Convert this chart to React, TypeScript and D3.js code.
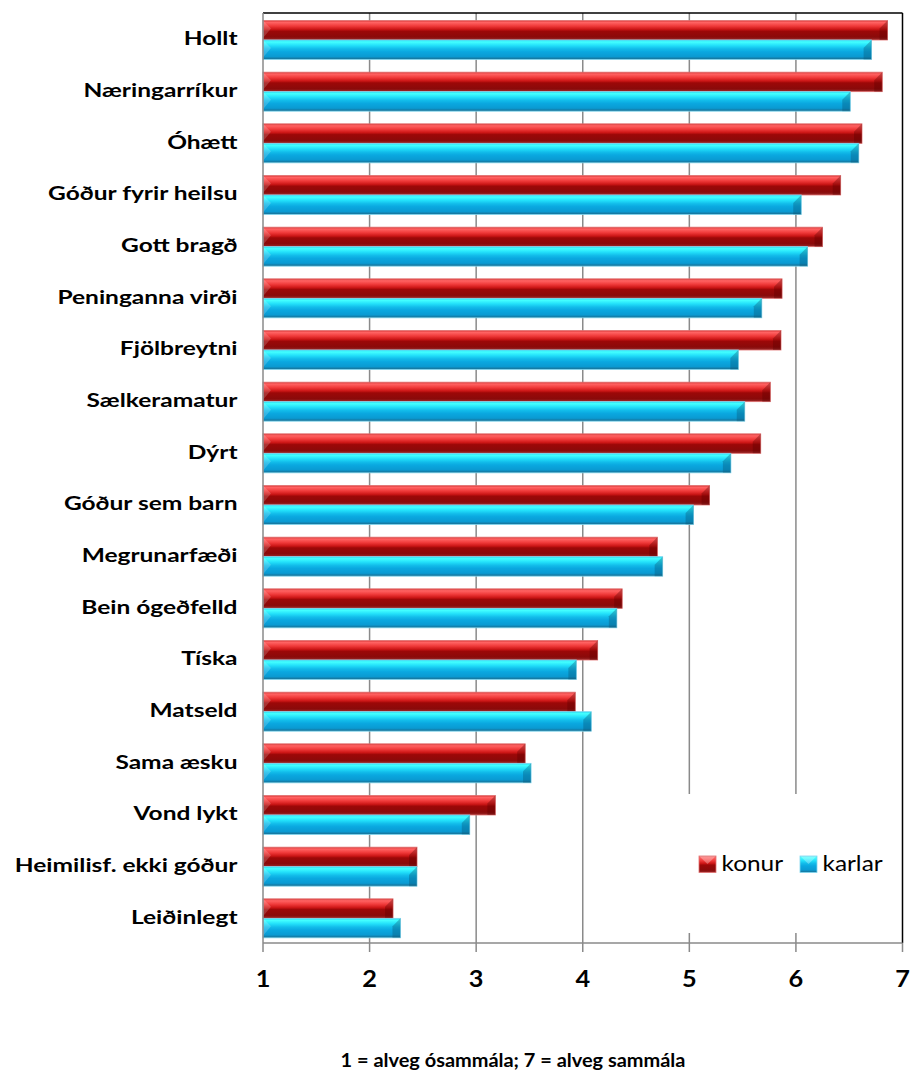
import React from "react";
import * as d3 from "d3";

const categories = [
  "Hollt",
  "Næringarríkur",
  "Óhætt",
  "Góður fyrir heilsu",
  "Gott bragð",
  "Peninganna virði",
  "Fjölbreytni",
  "Sælkeramatur",
  "Dýrt",
  "Góður sem barn",
  "Megrunarfæði",
  "Bein ógeðfelld",
  "Tíska",
  "Matseld",
  "Sama æsku",
  "Vond lykt",
  "Heimilisf. ekki góður",
  "Leiðinlegt",
];
const konur = [6.86, 6.81, 6.62, 6.42, 6.25, 5.87, 5.86, 5.76, 5.67, 5.19, 4.7, 4.37, 4.14, 3.93, 3.46, 3.18, 2.445, 2.22];
const karlar = [6.71, 6.51, 6.59, 6.05, 6.11, 5.68, 5.46, 5.52, 5.39, 5.04, 4.75, 4.32, 3.94, 4.08, 3.515, 2.94, 2.445, 2.29];
const seriesNames = ["konur", "karlar"];
const xTicks = [1, 2, 3, 4, 5, 6, 7];
const footer = "1 = alveg ósammála; 7 = alveg sammála";

const W = 910;
const H = 1070;
const left = 263;
const right = 902.5;
const top = 13;
const bottom = 943;
const FONT = "Lato, 'Open Sans', sans-serif";

export default function App() {
  const x = d3.scaleLinear().domain([1, 7]).range([left, right]);
  const y = d3.scaleBand<string>().domain(categories).range([top, bottom]);
  const inner = d3.scaleBand<string>().domain(seriesNames).range([7.5, 46.5]);
  const bh = inner.bandwidth();
  const seriesVals: Record<string, number[]> = { konur, karlar };
  const grad: Record<string, string> = { konur: "url(#gRed)", karlar: "url(#gCyan)" };
  const edge: Record<string, string> = { konur: "#e07070", karlar: "#80d8f0" };
  const dark: Record<string, string> = { konur: "#5a0000", karlar: "#0a5070" };

  const legendItems = [
    { name: "konur", sx: 699, tx: 721.5 },
    { name: "karlar", sx: 800, tx: 822.5 },
  ];

  return (
    <svg width={W} height={H} style={{ position: "absolute", left: 0, top: 0, background: "#fff" }}>
      <defs>
        <linearGradient id="gRed" x1="0" y1="0" x2="0" y2="1">
          <stop offset="0" stopColor="#d83a3a" />
          <stop offset="0.1" stopColor="#ff6262" />
          <stop offset="0.28" stopColor="#f03a3a" />
          <stop offset="0.45" stopColor="#cc1616" />
          <stop offset="0.55" stopColor="#9c0808" />
          <stop offset="0.85" stopColor="#8a0a0a" />
          <stop offset="1" stopColor="#9a2a2a" />
        </linearGradient>
        <linearGradient id="gCyan" x1="0" y1="0" x2="0" y2="1">
          <stop offset="0" stopColor="#2ad8f2" />
          <stop offset="0.1" stopColor="#44ffff" />
          <stop offset="0.28" stopColor="#22e0fa" />
          <stop offset="0.45" stopColor="#12bcea" />
          <stop offset="0.6" stopColor="#0aa8e0" />
          <stop offset="0.85" stopColor="#0a9ad2" />
          <stop offset="1" stopColor="#1a6a8c" />
        </linearGradient>
      </defs>

      {/* gridlines */}
      {xTicks.slice(1, -1).map((t) => (
        <line key={"g" + t} x1={x(t)} x2={x(t)} y1={top} y2={bottom} stroke="#8a8a8a" strokeWidth={1.5} />
      ))}

      {/* bars */}
      {categories.map((c, i) =>
        seriesNames.map((s) => {
          const v = seriesVals[s][i];
          const x0 = x(1);
          const x1 = x(v);
          const yy = (y(c) as number) + (inner(s) as number);
          const b = Math.min(8, bh / 2);
          return (
            <g key={c + s}>
              <rect x={x0} y={yy} width={x1 - x0} height={bh} fill={grad[s]} stroke={edge[s]} strokeWidth={0.8} />
              <polygon
                points={`${x1},${yy} ${x1 - b},${yy + b} ${x1 - b},${yy + bh} ${x1},${yy + bh}`}
                fill={dark[s]}
                opacity={0.35}
              />
              <polygon
                points={`${x0},${yy} ${x0 + b},${yy + b} ${x0},${yy + bh - 2}`}
                fill="#ffffff"
                opacity={0.18}
              />
            </g>
          );
        })
      )}

      {/* legend box */}
      <rect x={640} y={794} width={261} height={139} fill="#fff" />
      {legendItems.map((it) => (
        <g key={it.name}>
          <rect x={it.sx} y={856} width={17} height={16.5} fill={grad[it.name]} stroke={edge[it.name]} strokeWidth={0.8} />
          <polygon
            points={`${it.sx},${856} ${it.sx + 8.5},${864} ${it.sx + 17},${856}`}
            fill="#ffffff"
            opacity={0.3}
          />
          <text
            transform={`translate(${it.tx},871) scale(1.19,1)`}
            fontFamily={FONT}
            fontSize={20.5}
            fill="#000"
          >
            {it.name}
          </text>
        </g>
      ))}

      {/* frame */}
      <line x1={left} x2={right} y1={top} y2={top} stroke="#000" strokeWidth={1.5} />
      <line x1={right} x2={right} y1={top} y2={bottom} stroke="#000" strokeWidth={1.5} />
      <line x1={left} x2={left} y1={top} y2={bottom} stroke="#8a8a8a" strokeWidth={1.5} />
      <line x1={left} x2={right} y1={bottom} y2={bottom} stroke="#8a8a8a" strokeWidth={1.5} />

      {/* x ticks */}
      {xTicks.map((t) => (
        <g key={"t" + t}>
          <line x1={x(t)} x2={x(t)} y1={bottom} y2={bottom + 9} stroke="#8a8a8a" strokeWidth={1.5} />
          <text
            transform={`translate(${x(t)},987) scale(1.15,1)`}
            textAnchor="middle"
            fontFamily={FONT}
            fontWeight="bold"
            fontSize={22}
            fill="#000"
          >
            {t}
          </text>
        </g>
      ))}

      {/* category labels */}
      {categories.map((c) => (
        <text
          key={"l" + c}
          transform={`translate(237.5,${(y(c) as number) + y.bandwidth() / 2}) scale(1.29,1)`}
          dy="0.35em"
          textAnchor="end"
          fontFamily={FONT}
          fontWeight="bold"
          fontSize={19}
          fill="#000"
        >
          {c}
        </text>
      ))}

      <text
        transform={`translate(513,1067) scale(1.05,1)`}
        textAnchor="middle"
        fontFamily={FONT}
        fontWeight="bold"
        fontSize={19}
        fill="#000"
      >
        {footer}
      </text>
    </svg>
  );
}
